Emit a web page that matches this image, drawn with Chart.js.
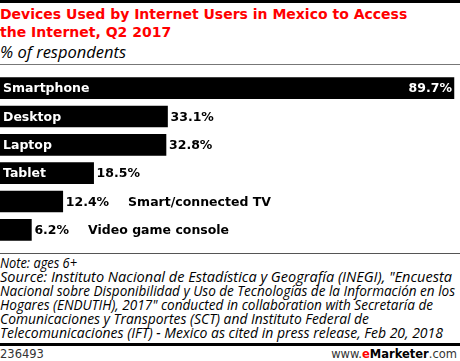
<!DOCTYPE html>
<html>
<head>
<meta charset="utf-8">
<script src="https://cdn.jsdelivr.net/npm/chart.js@4"></script>
<style>
  body { margin: 0; background: #fff; width: 460px; height: 361px; overflow: hidden; position: relative; font-family: "DejaVu Sans", sans-serif; }
  .topbar { position: absolute; left: 0; top: 0; width: 460px; height: 3px; background: #000; }
  .title { position: absolute; left: 0; top: 5px; font: bold 14px "DejaVu Sans", sans-serif; color: #ff0000; line-height: 18px; }
  .subtitle { position: absolute; left: 0; top: 40px; font: italic 16.5px "Open Sans", sans-serif; color: #000; }
  .rule1 { position: absolute; left: 0; top: 64px; width: 460px; height: 1px; background: #777; }
  .chartbox { position: absolute; left: 0; top: 74px; width: 460px; height: 170px; }
  .rule2 { position: absolute; left: 0; top: 253px; width: 460px; height: 1px; background: #555; }
  .note { position: absolute; left: 0; top: 256px; font: italic 14px "Open Sans", sans-serif; line-height: 14px; color: #000; white-space: nowrap; }
  .note span { display: block; transform-origin: 0 50%; width: max-content; }
  .rule3 { position: absolute; left: 0; top: 343px; width: 460px; height: 3px; background: #000; }
  .id { position: absolute; left: 0; top: 347px; font: 11.5px "DejaVu Sans", sans-serif; color: #333; }
  .brand { position: absolute; right: 3px; top: 347px; font: 11.5px "DejaVu Sans", sans-serif; color: #333; }
  .brand b { color: #000; } .brand .e { color: #ff0000; font-weight: bold; }
</style>
</head>
<body>
<div class="topbar"></div>
<div class="title">Devices Used by Internet Users in Mexico to Access<br>the Internet, Q2 2017</div>
<div class="subtitle">% of respondents</div>
<div class="rule1"></div>
<div class="chartbox"><canvas id="bar-chart"></canvas></div>
<div class="rule2"></div>
<div class="note" id="note"></div>
<div class="rule3"></div>
<div class="id">236493</div>
<div class="brand">www.<span class="e">e</span><b>Marketer</b>.com</div>
<script>
var devices = ["Smartphone", "Desktop", "Laptop", "Tablet", "Smart/connected TV", "Video game console"];
var shares = [89.7, 33.1, 32.8, 18.5, 12.4, 6.2];
// labels that don't fit in the bar go after the value
var labelOutside = [false, false, false, false, true, true];

var noteLines = [
  "Note: ages 6+",
  "Source: Instituto Nacional de Estadística y Geografía (INEGI), \"Encuesta",
  "Nacional sobre Disponibilidad y Uso de Tecnologías de la Información en los",
  "Hogares (ENDUTIH), 2017\" conducted in collaboration with Secretaría de",
  "Comunicaciones y Transportes (SCT) and Instituto Federal de",
  "Telecomunicaciones (IFT) - Mexico as cited in press release, Feb 20, 2018"
];
// approx line widths in the original, so the wrapping looks the same
var noteWidths = [77, 452, 455, 433, 369, 443];

var note = document.getElementById("note");
noteLines.forEach(function(t, i) {
  var s = document.createElement("span");
  s.textContent = t;
  note.appendChild(s);
  var w = s.getBoundingClientRect().width;
  s.style.transform = "scaleX(" + (noteWidths[i] / w) + ")";
});

var labelFont = "bold 12.5px 'DejaVu Sans', sans-serif";

var barLabels = {
  id: "barLabels",
  afterDatasetsDraw: function(chart) {
    var ctx = chart.ctx;
    var meta = chart.getDatasetMeta(0);
    ctx.save();
    ctx.font = labelFont;
    ctx.textBaseline = "middle";
    meta.data.forEach(function(bar, i) {
      var val = shares[i].toFixed(1) + "%";
      var y = bar.y + 1;
      if (i === 0) {
        ctx.fillStyle = "#fff";
        ctx.textAlign = "right";
        ctx.fillText(val, bar.x - 2, y);
      } else {
        ctx.fillStyle = "#000";
        ctx.textAlign = "left";
        ctx.fillText(val, bar.x + 3, y);
      }
      ctx.textAlign = "left";
      if (labelOutside[i]) {
        var w = ctx.measureText(val).width;
        ctx.fillStyle = "#000";
        ctx.fillText(devices[i], bar.x + 3 + w + 19, y);
      } else {
        ctx.fillStyle = "#fff";
        ctx.fillText(devices[i], bar.base + 3, y);
      }
    });
    ctx.restore();
  }
};

new Chart(document.getElementById("bar-chart"), {
  type: "bar",
  data: {
    labels: devices,
    datasets: [{
      data: shares,
      backgroundColor: "#000",
      borderWidth: 0,
      barThickness: 21
    }]
  },
  options: {
    indexAxis: "y",
    responsive: true,
    maintainAspectRatio: false,
    animation: false,
    layout: { padding: 0 },
    plugins: { legend: { display: false }, tooltip: { enabled: false } },
    scales: {
      x: { display: false, min: 0, max: 90.9 },
      y: { display: false }
    }
  },
  plugins: [barLabels]
});
</script>
</body>
</html>
